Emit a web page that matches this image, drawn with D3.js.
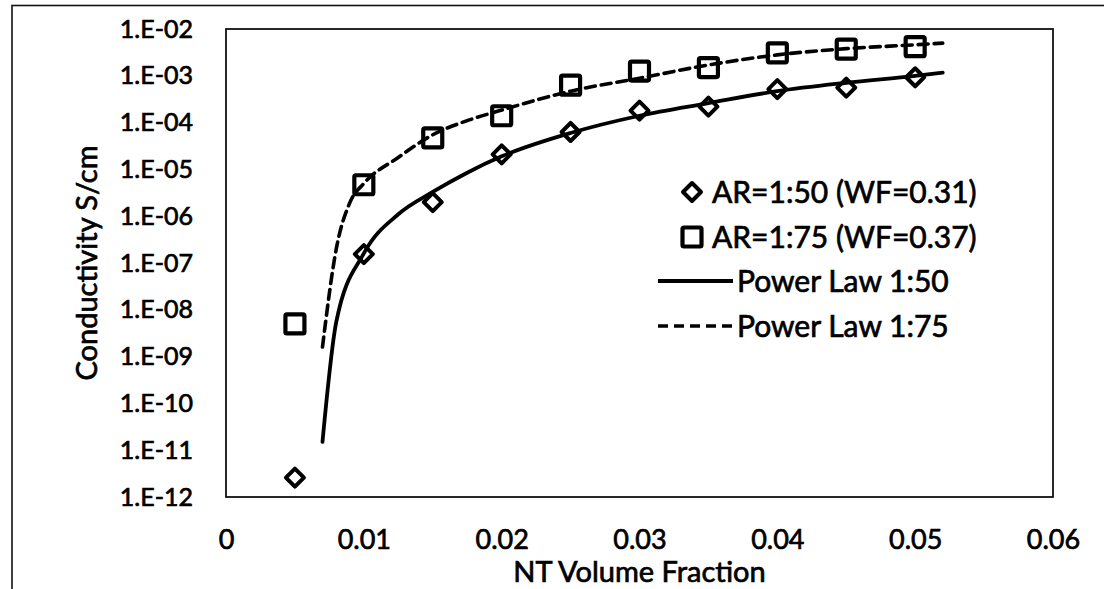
<!DOCTYPE html>
<html>
<head>
<meta charset="utf-8">
<script src="https://cdn.jsdelivr.net/npm/d3@7"></script>
<style>
  html, body { margin: 0; padding: 0; background: #fff; }
  svg { display: block; }
  text { font-family: Lato, "Open Sans", sans-serif; fill: #000; stroke: #000; stroke-width: 0.7px; }
</style>
</head>
<body>
<svg id="chart" width="1104" height="589"></svg>
<script>
// Volume fraction of nanotubes at each measured sample
const fractions = [0.005, 0.01, 0.015, 0.02, 0.025, 0.03, 0.035, 0.04, 0.045, 0.05];
// Measured conductivity (S/cm), aspect ratio 1:50
const ar50 = [2.6e-12, 1.55e-7, 2.0e-6, 2.1e-5, 6.3e-5, 1.8e-4, 2.2e-4, 5.2e-4, 5.6e-4, 9.3e-4];
// Measured conductivity (S/cm), aspect ratio 1:75
const ar75 = [5.0e-9, 4.7e-6, 4.7e-5, 1.4e-4, 6.3e-4, 1.26e-3, 1.5e-3, 3.1e-3, 3.7e-3, 4.2e-3];

// Power-law fit curves
const fitX = [0.007, 0.008, 0.01, 0.0125, 0.015, 0.0175, 0.02, 0.025, 0.03, 0.035, 0.04, 0.045, 0.05, 0.052];
const fit50 = [1.5e-11, 5.5e-9, 1.6e-7, 1.1e-6, 3.3e-6, 8.5e-6, 1.9e-5, 6.0e-5, 1.4e-4, 2.6e-4, 4.7e-4, 7.1e-4, 1.0e-3, 1.17e-3];
const fit75X = [0.007, 0.008, 0.009, 0.01, 0.0125, 0.015, 0.0175, 0.02, 0.025, 0.03, 0.035, 0.04, 0.045, 0.05, 0.052];
const fit75 = [1.6e-9, 2.0e-7, 2.0e-6, 5.0e-6, 1.8e-5, 5.5e-5, 1.1e-4, 1.85e-4, 4.7e-4, 8.9e-4, 1.7e-3, 2.8e-3, 3.8e-3, 4.6e-3, 5.0e-3];

// Axis ticks
const xTicks = [0, 0.01, 0.02, 0.03, 0.04, 0.05, 0.06];
const xTickLabels = ["0", "0.01", "0.02", "0.03", "0.04", "0.05", "0.06"];
const yTicks = [1e-2, 1e-3, 1e-4, 1e-5, 1e-6, 1e-7, 1e-8, 1e-9, 1e-10, 1e-11, 1e-12];
const yTickLabels = ["1.E-02", "1.E-03", "1.E-04", "1.E-05", "1.E-06", "1.E-07", "1.E-08", "1.E-09", "1.E-10", "1.E-11", "1.E-12"];

// Legend entries
const legendLabels = ["AR=1:50 (WF=0.31)", "AR=1:75 (WF=0.37)", "Power Law 1:50", "Power Law 1:75"];

const svg = d3.select("#chart");
const plot = { left: 226, top: 29, right: 1053, bottom: 497 };

const x = d3.scaleLinear().domain([0, 0.06]).range([plot.left, plot.right]);
const y = d3.scaleLog().domain([1e-12, 1e-2]).range([plot.bottom, plot.top]);

// Outer chart frame (extends past the page edges)
svg.append("rect")
  .attr("x", 12).attr("y", 5.5).attr("width", 1120).attr("height", 620)
  .attr("fill", "none").attr("stroke", "#111").attr("stroke-width", 1.6);

// Plot area border
svg.append("rect")
  .attr("x", plot.left).attr("y", plot.top)
  .attr("width", plot.right - plot.left).attr("height", plot.bottom - plot.top)
  .attr("fill", "none").attr("stroke", "#111").attr("stroke-width", 1.8);

// Axes
const xAxis = svg.append("g")
  .attr("transform", `translate(0,${plot.bottom})`)
  .call(d3.axisBottom(x).tickValues(xTicks)
    .tickFormat((d, i) => xTickLabels[i]).tickSize(0).tickPadding(33));
xAxis.select(".domain").remove();
xAxis.selectAll("text").attr("font-size", 27).style("font-family", "Lato");

const yAxis = svg.append("g")
  .attr("transform", `translate(${plot.left},0)`)
  .call(d3.axisLeft(y).tickValues(yTicks)
    .tickFormat((d, i) => yTickLabels[i]).tickSize(0).tickPadding(33));
yAxis.select(".domain").remove();
yAxis.selectAll("text").attr("font-size", 25).style("font-family", "Lato");

// Axis titles
svg.append("text")
  .attr("x", (plot.left + plot.right) / 2).attr("y", 582)
  .attr("text-anchor", "middle").attr("font-size", 29)
  .text("NT Volume Fraction");

svg.append("text")
  .attr("transform", `translate(97,${(plot.top + plot.bottom) / 2}) rotate(-90)`)
  .attr("text-anchor", "middle").attr("font-size", 29)
  .text("Conductivity S/cm");

// Marker shapes
const diamondPath = (r) => `M0,${-r}L${r},0L0,${r}L${-r},0Z`;
const squareSide = 19;

// Data markers
const ptsG = svg.append("g");
ptsG.selectAll("path.d50")
  .data(fractions.map((f, i) => [f, ar50[i]]))
  .join("path")
  .attr("class", "d50")
  .attr("d", diamondPath(9))
  .attr("transform", d => `translate(${x(d[0])},${y(d[1])})`)
  .attr("fill", "#fff").attr("stroke", "#000").attr("stroke-width", 4)
  .attr("stroke-linejoin", "round");

ptsG.selectAll("rect.d75")
  .data(fractions.map((f, i) => [f, ar75[i]]))
  .join("rect")
  .attr("class", "d75")
  .attr("x", d => x(d[0]) - squareSide / 2)
  .attr("y", d => y(d[1]) - squareSide / 2)
  .attr("width", squareSide).attr("height", squareSide)
  .attr("rx", 1.5)
  .attr("fill", "#fff").attr("stroke", "#000").attr("stroke-width", 4.2);

// Fit curves
const line = d3.line().x(d => x(d[0])).y(d => y(d[1])).curve(d3.curveMonotoneX);

svg.append("path")
  .datum(fitX.map((f, i) => [f, fit50[i]]))
  .attr("d", line)
  .attr("fill", "none").attr("stroke", "#000").attr("stroke-width", 3.8)
  .attr("stroke-linecap", "round");

svg.append("path")
  .datum(fit75X.map((f, i) => [f, fit75[i]]))
  .attr("d", line)
  .attr("fill", "none").attr("stroke", "#000").attr("stroke-width", 3.6)
  .attr("stroke-dasharray", "10,6").attr("stroke-linecap", "round");

// Legend
const legend = svg.append("g");
const rowY = [192, 237, 281, 326];

legend.append("path")
  .attr("d", diamondPath(9))
  .attr("transform", `translate(692,${rowY[0]})`)
  .attr("fill", "#fff").attr("stroke", "#000").attr("stroke-width", 4)
  .attr("stroke-linejoin", "round");

legend.append("rect")
  .attr("x", 692 - squareSide / 2).attr("y", rowY[1] - squareSide / 2)
  .attr("width", squareSide).attr("height", squareSide).attr("rx", 1.5)
  .attr("fill", "#fff").attr("stroke", "#000").attr("stroke-width", 4.2);

legend.append("line")
  .attr("x1", 658).attr("x2", 733).attr("y1", rowY[2]).attr("y2", rowY[2])
  .attr("stroke", "#000").attr("stroke-width", 3.8);

legend.append("line")
  .attr("x1", 658).attr("x2", 733).attr("y1", rowY[3]).attr("y2", rowY[3])
  .attr("stroke", "#000").attr("stroke-width", 3.6).attr("stroke-dasharray", "10,6");

legend.selectAll("text.lab")
  .data(legendLabels)
  .join("text")
  .attr("class", "lab")
  .attr("x", (d, i) => i < 2 ? 712 : 737)
  .attr("y", (d, i) => rowY[i])
  .attr("dy", "0.36em")
  .attr("font-size", 30)
  .text(d => d);
</script>
</body>
</html>
